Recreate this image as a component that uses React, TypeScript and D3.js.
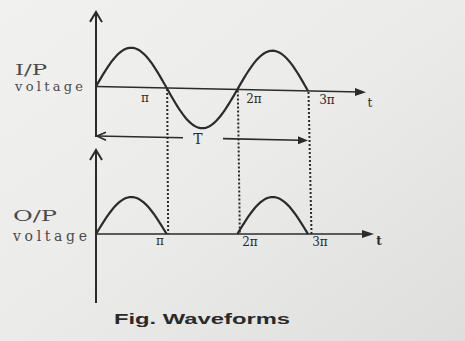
import React from "react";
import * as d3 from "d3";

// Half-cycle amplitudes (normalised) of the input and rectified output
const inputHalfCycles = [1, -1, 1];
const outputHalfCycles = [1, 0, 1];
// Tick positions along the time axis (radians) and their labels
const tickValues = [Math.PI, 2 * Math.PI, 3 * Math.PI];
const tickLabels = ["π", "2π", "3π"];
const periodLabel = "T";
const axisLabelTop = ["I/P", "voltage"];
const axisLabelBottom = ["O/P", "voltage"];
const caption = "Fig. Waveforms";

const W = 465;
const H = 341;
const ink = "#2b2b2b";

const x = d3.scaleLinear().domain([0, 3 * Math.PI]).range([96, 308]);
const yTop = d3.scaleLinear().domain([-1, 1]).range([126, 47]);
const yBot = d3.scaleLinear().domain([0, 1]).range([234, 197]);

// sample each half-cycle as a sine arc scaled by its amplitude
function halfCyclePoints(amps: number[], offset = 0): [number, number][] {
  const pts: [number, number][] = [];
  amps.forEach((a, i) => {
    const start = (i + offset) * Math.PI;
    const n = 40;
    for (let k = 0; k <= n; k++) {
      const t = start + (Math.PI * k) / n;
      pts.push([t, a * Math.abs(Math.sin(t))]);
    }
  });
  return pts;
}

export default function App() {
  const lineTop = d3
    .line<[number, number]>()
    .x((d) => x(d[0]))
    .y((d) => yTop(d[1]));
  const lineBot = d3
    .line<[number, number]>()
    .x((d) => x(d[0]))
    .y((d) => yBot(d[1]));

  const inPts = halfCyclePoints(inputHalfCycles);
  // output: only the conducting half-cycles, as separate humps
  const outSegs = outputHalfCycles
    .map((a, i) => ({ a, i }))
    .filter((s) => s.a !== 0)
    .map((s) => halfCyclePoints([s.a], s.i));

  const y0Top = yTop(0);
  const y0Bot = yBot(0);
  const serif = "'DejaVu Serif', 'Liberation Serif', serif";
  const skew = Math.tan((1.2 * Math.PI) / 180);

  return (
    <svg width={W} height={H} style={{ position: "absolute", left: 0, top: 0 }}>
      <defs>
        <linearGradient id="paper" x1="0" y1="0" x2="1" y2="1">
          <stop offset="0" stopColor="#f1f1ef" />
          <stop offset="0.5" stopColor="#ebebe9" />
          <stop offset="1" stopColor="#dededc" />
        </linearGradient>
      </defs>
      <rect width={W} height={H} fill="url(#paper)" />

      {/* input panel, slightly skewed as printed */}
      <g transform={`translate(96,${y0Top}) skewY(1.2) translate(-96,${-y0Top})`}>
        <line x1={96} y1={137} x2={96} y2={13} stroke={ink} strokeWidth={2} />
        <path d="M90,22 L96,12 L102,22" fill="none" stroke={ink} strokeWidth={2} />
        <line x1={96} y1={y0Top} x2={360} y2={y0Top} stroke={ink} strokeWidth={1.6} />
        <path d={`M355,${y0Top - 4} L366,${y0Top} L355,${y0Top + 4} Z`} fill={ink} />
        <path d={lineTop(inPts) || ""} fill="none" stroke={ink} strokeWidth={2.2} />
        {/* period arrows */}
        <line x1={97} y1={136} x2={183} y2={136} stroke={ink} strokeWidth={1.6} />
        <path d="M106,132 L97,136 L106,140" fill="none" stroke={ink} strokeWidth={1.6} />
        <line x1={223} y1={136} x2={300} y2={136} stroke={ink} strokeWidth={1.6} />
        <path d="M298,132 L308,136 L298,140 Z" fill={ink} />
      </g>
      <text x={198} y={144} fontFamily={serif} fontSize={14} fill={ink} textAnchor="middle">
        {periodLabel}
      </text>

      {/* dotted guides from input crossings down to the output axis */}
      {tickValues.map((t, i) => (
        <line
          key={i}
          x1={x(t) + 0.5}
          y1={y0Top + 1 + (x(t) - 96) * skew}
          x2={x(t) + 1.5 + i}
          y2={y0Bot}
          stroke={ink}
          strokeWidth={2}
          strokeDasharray="2,2"
        />
      ))}

      {/* input tick labels */}
      {[
        [145, 102],
        [254, 103],
        [327, 104],
      ].map(([tx, ty], i) => (
        <text key={i} x={tx} y={ty} fontFamily={serif} fontSize={12} fill={ink} textAnchor="middle">
          {tickLabels[i]}
        </text>
      ))}
      <text x={370} y={107} fontFamily={serif} fontSize={12} fill={ink} textAnchor="middle">
        t
      </text>

      {/* output panel */}
      <line x1={96} y1={303} x2={96} y2={151} stroke={ink} strokeWidth={2} />
      <path d="M90,160 L96,150 L102,160" fill="none" stroke={ink} strokeWidth={2} />
      <line x1={96} y1={y0Bot} x2={368} y2={y0Bot} stroke={ink} strokeWidth={1.6} />
      <path d={`M362,${y0Bot - 4} L374,${y0Bot} L362,${y0Bot + 4} Z`} fill={ink} />
      {outSegs.map((seg, i) => (
        <path key={i} d={lineBot(seg) || ""} fill="none" stroke={ink} strokeWidth={2.2} />
      ))}
      {[
        [160, 245],
        [250, 246],
        [320, 246],
      ].map(([tx, ty], i) => (
        <text key={i} x={tx} y={ty} fontFamily={serif} fontSize={12} fill={ink} textAnchor="middle">
          {tickLabels[i]}
        </text>
      ))}
      <text x={379} y={245} fontFamily={serif} fontSize={12} fontWeight="bold" fill={ink} textAnchor="middle">
        t
      </text>

      {/* axis titles */}
      <text x={15} y={75} fontFamily={serif} fontSize={14} fill="#4a4a4a" textLength={32} lengthAdjust="spacingAndGlyphs">
        {axisLabelTop[0]}
      </text>
      <text x={15} y={91} fontFamily={serif} fontSize={13} fill="#4a4a4a" textLength={68} lengthAdjust="spacing">
        {axisLabelTop[1]}
      </text>
      <text x={13} y={221} fontFamily={serif} fontSize={15} fill="#4a4a4a" textLength={44} lengthAdjust="spacingAndGlyphs">
        {axisLabelBottom[0]}
      </text>
      <text x={13} y={241} fontFamily={serif} fontSize={14} fill="#4a4a4a" textLength={74} lengthAdjust="spacing">
        {axisLabelBottom[1]}
      </text>

      <text
        x={114}
        y={324}
        fontFamily="'Liberation Sans', Arial, sans-serif"
        fontWeight="bold"
        fontSize={14}
        fill="#2a2a2a"
        textLength={176}
        lengthAdjust="spacingAndGlyphs"
      >
        {caption}
      </text>
    </svg>
  );
}
